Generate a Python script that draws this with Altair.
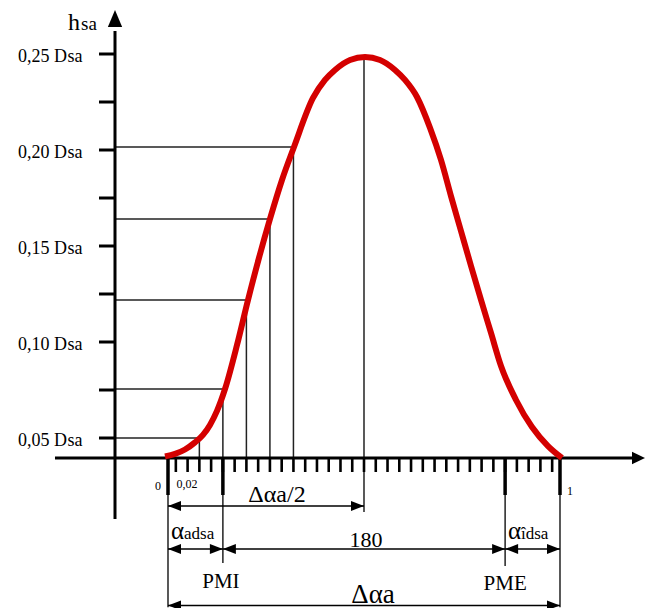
import altair as alt
import pandas as pd

# ---------------- data ----------------
# cam lift law: phase (fraction of the opening, 0..1) and lift (in Dsa)
curve_phase = [-0.0077, 0.0179, 0.0434, 0.0689, 0.0893, 0.1071, 0.1250, 0.1454, 0.1760, 0.2041,
               0.2321, 0.2602, 0.2908, 0.3214, 0.3699, 0.4005, 0.4260, 0.4643, 0.5026, 0.5408,
               0.5791, 0.6046, 0.6352, 0.6684, 0.6964, 0.7219, 0.7474, 0.7730, 0.7985, 0.8240,
               0.8495, 0.8878, 0.9286, 0.9694, 1.0051]
curve_lift = [0.0404, 0.0417, 0.0440, 0.0477, 0.0516, 0.0568, 0.0641, 0.0755, 0.0984, 0.1219,
              0.1438, 0.1641, 0.1844, 0.2016, 0.2271, 0.2365, 0.2417, 0.2469, 0.2484, 0.2469,
              0.2417, 0.2365, 0.2276, 0.2115, 0.1948, 0.1760, 0.1578, 0.1396, 0.1219, 0.1047,
              0.0875, 0.0698, 0.0557, 0.0458, 0.0396]

# lift axis graduation (Dsa)
y_tick_values = [0.05, 0.075, 0.10, 0.125, 0.15, 0.175, 0.20, 0.225, 0.25]
y_label_values = [0.05, 0.10, 0.15, 0.20, 0.25]
y_label_text = ["0,05 D", "0,10 D", "0,15 D", "0,20 D", "0,25 D"]

# phase axis graduation
x_tick_values = [0.02, 0.05, 0.08, 0.11, 0.14, 0.17, 0.20, 0.23, 0.26, 0.29, 0.32,
                 0.35, 0.38, 0.41, 0.44, 0.47, 0.50, 0.53, 0.56, 0.59, 0.62, 0.65,
                 0.68, 0.71, 0.74, 0.77, 0.80, 0.83, 0.86, 0.89, 0.92, 0.95, 0.98]
key_phase = [0.0, 0.14, 0.86, 1.0]          # 0, PMI, PME, 1

# construction lines down from the curve
ref_phase = [0.08, 0.14, 0.20, 0.26, 0.32]
ref_lift = [0.050, 0.0755, 0.1219, 0.1641, 0.2016]
peak_phase = 0.50
peak_lift = 0.2484

# ---------------- layout ----------------
AX_H = 0.0396      # level of the phase axis
AX_P = -0.1352     # position of the lift axis
XS = alt.Scale(domain=[-0.408163, 1.219388], nice=False, zero=False)
YS = alt.Scale(domain=[-0.038542, 0.273958], nice=False, zero=False)
X = alt.X("p:Q", scale=XS, axis=None)
Y = alt.Y("h:Q", scale=YS, axis=None)
FONT = "Liberation Serif"
THIN = "#222222"

segs = []
def seg(p, h, p2, h2, w, c="black"):
    segs.append(dict(p=p, h=h, p2=p2, h2=h2, w=w, c=c))

# construction lines
for rp, rl in zip(ref_phase, ref_lift):
    seg(AX_P, rl, rp, rl, 1.5, THIN)
    if rp not in key_phase:
        seg(rp, rl, rp, AX_H, 1.5, THIN)
seg(peak_phase, peak_lift, peak_phase, 0.0115, 1.5, THIN)
seg(key_phase[0], 0.0203, key_phase[0], -0.0382, 1.5, THIN)
seg(key_phase[1], ref_lift[1], key_phase[1], -0.0151, 1.5, THIN)
seg(key_phase[2], 0.0203, key_phase[2], -0.0167, 1.5, THIN)
seg(key_phase[3], 0.0203, key_phase[3], -0.0382, 1.5, THIN)

# axes
seg(AX_P, 0.0078, AX_P, 0.262, 3)
seg(-0.2883, AX_H, 1.200, AX_H, 3)
for t in y_tick_values:
    seg(-0.176, t, AX_P, t, 3)
for t in x_tick_values:
    seg(t, AX_H, t, 0.0323, 2.6)
for k in key_phase:
    seg(k, AX_H, k, 0.0203, 3.5)

# dimension lines
DIM1, DIM2, DIM3 = 0.0146, -0.0078, -0.0372
seg(0.0, DIM1, peak_phase, DIM1, 1.5)
seg(0.0, DIM2, 0.14, DIM2, 1.5)
seg(0.14, DIM2, 0.86, DIM2, 1.5)
seg(0.86, DIM2, 1.0, DIM2, 1.5)
seg(0.0, DIM3, 1.0, DIM3, 1.5)

seg_df = pd.DataFrame(segs)

rules = alt.Chart(seg_df).mark_rule().encode(
    x=X, y=Y, x2="p2:Q", y2="h2:Q",
    strokeWidth=alt.StrokeWidth("w:Q", scale=None),
    color=alt.Color("c:N", scale=None),
)

curve = alt.Chart(pd.DataFrame({"p": curve_phase, "h": curve_lift})).mark_line(
    color="#d40000", strokeWidth=6, interpolate="monotone", strokeCap="butt"
).encode(x=X, y=Y)

# arrow heads
R = "M0,0L-1,-0.38L-1,0.38Z"
L = "M0,0L1,-0.38L1,0.38Z"
UP = "M0,0L-0.42,1L0.42,1Z"
RX = "M0,0L-1,-0.48L-1,0.48Z"
heads = pd.DataFrame([
    dict(p=0.0, h=DIM1, shape=L, s=676), dict(p=peak_phase, h=DIM1, shape=R, s=676),
    dict(p=0.0, h=DIM2, shape=L, s=676), dict(p=0.14, h=DIM2, shape=R, s=676),
    dict(p=0.14, h=DIM2, shape=L, s=676), dict(p=0.86, h=DIM2, shape=R, s=676),
    dict(p=0.86, h=DIM2, shape=L, s=676), dict(p=1.0, h=DIM2, shape=R, s=676),
    dict(p=0.0, h=DIM3, shape=L, s=676), dict(p=1.0, h=DIM3, shape=R, s=676),
    dict(p=AX_P, h=0.2729, shape=UP, s=1156),
    dict(p=1.2168, h=AX_H, shape=RX, s=676),
])
arrows = alt.Chart(heads).mark_point(filled=True, opacity=1, color="black", strokeWidth=0).encode(
    x=X, y=Y, shape=alt.Shape("shape:N", scale=None), size=alt.Size("s:Q", scale=None)
)

# texts
center_txt = pd.DataFrame([
    dict(p=0.278, h=0.0167, t="Δαa/2", fs=24),
    dict(p=0.505, h=-0.0068, t="180", fs=22),
    dict(p=0.135, h=-0.0281, t="PMI", fs=21),
    dict(p=0.860, h=-0.0292, t="PME", fs=21),
    dict(p=0.523, h=-0.0360, t="Δαa", fs=27),
    dict(p=-0.0255, h=0.0229, t="0", fs=12),
    dict(p=0.0485, h=0.0240, t="0,02", fs=12),
    dict(p=1.0255, h=0.0203, t="1", fs=12),
])
right_txt = pd.DataFrame(
    [dict(p=-0.2245, h=0.2625, t="h", fs=24)]
    + [dict(p=-0.2577, h=v - 0.00417, t=s, fs=18) for v, s in zip(y_label_values, y_label_text)]
)
left_txt = pd.DataFrame(
    [dict(p=-0.2219, h=0.2625, t="sa", fs=19)]
    + [dict(p=-0.2564, h=v - 0.00417, t="sa", fs=18) for v in y_label_values]
    + [dict(p=0.0077, h=-0.0026, t="α", fs=25), dict(p=0.0408, h=-0.0026, t="adsa", fs=17),
       dict(p=0.8673, h=-0.0026, t="α", fs=25), dict(p=0.9005, h=-0.0026, t="îdsa", fs=17)]
)

def txt(df, align):
    return alt.Chart(df).mark_text(font=FONT, align=align, baseline="alphabetic", color="black").encode(
        x=X, y=Y, text="t:N", size=alt.Size("fs:Q", scale=None)
    )

chart = alt.layer(
    rules, curve, arrows, txt(center_txt, "center"), txt(right_txt, "right"), txt(left_txt, "left")
).properties(
    width=638, height=600, autosize=alt.AutoSizeParams(type="none"), padding=0
).configure_view(strokeWidth=0)

chart.save("out.html", embed_options={"renderer": "svg", "actions": False})
